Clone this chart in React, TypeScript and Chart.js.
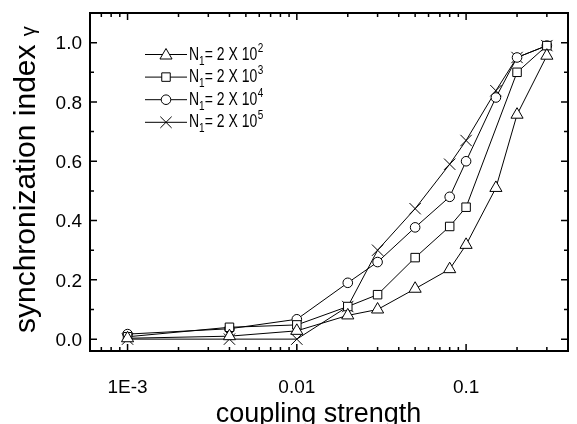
import React, { useEffect, useRef } from 'react';
import { Chart, registerables } from 'chart.js';

Chart.register(...registerables);

// ---- data ----
const COUPLING = [0.001, 0.004, 0.01, 0.02, 0.03, 0.05, 0.08, 0.1, 0.15, 0.2, 0.3];
const GAMMA_N2 = [0.003, 0.01, 0.028, 0.08, 0.1, 0.17, 0.236, 0.318, 0.51, 0.757, 0.956];
const GAMMA_N3 = [0.008, 0.04, 0.048, 0.11, 0.15, 0.275, 0.38, 0.445, null, 0.9, 0.99];
const GAMMA_N4 = [0.017, 0.035, 0.067, 0.19, 0.26, 0.377, 0.48, 0.6, 0.815, 0.95, 0.99];
const GAMMA_N5 = [0.0, 0.0, 0.0, 0.11, 0.3, 0.44, 0.59, 0.67, 0.838, 0.95, 0.99];
const SERIES_EXPONENTS = ['2', '3', '4', '5'];
const SERIES_STYLES = ['triangle', 'rect', 'circle', 'crossRot'];
const SERIES_RADII = [7, 6, 4.8, 8];

const X_TICKS = [0.001, 0.01, 0.1];
const X_TICK_LABELS = ['1E-3', '0.01', '0.1'];
const Y_TICKS = [0, 0.2, 0.4, 0.6, 0.8, 1.0];
const Y_TICK_LABELS = ['0.0', '0.2', '0.4', '0.6', '0.8', '1.0'];
const X_TITLE = 'coupling strength';
const Y_TITLE = 'synchronization index ';
const Y_SYMBOL = 'γ';

const FONT = '"Liberation Sans", Arial, sans-serif';

function txt(ctx: CanvasRenderingContext2D, s: string, x: number, y: number, size: number, sx = 1, sy = 1, align: CanvasTextAlign = 'left') {
  ctx.save();
  ctx.translate(x, y);
  ctx.scale(sx, sy);
  ctx.font = `${size}px ${FONT}`;
  ctx.textAlign = align;
  ctx.textBaseline = 'alphabetic';
  ctx.fillStyle = '#000';
  ctx.fillText(s, 0, 0);
  const w = ctx.measureText(s).width * sx;
  ctx.restore();
  return w;
}

function drawMarker(ctx: CanvasRenderingContext2D, style: string, x: number, y: number, r: number) {
  ctx.save();
  ctx.beginPath();
  ctx.strokeStyle = '#000';
  ctx.fillStyle = '#fff';
  ctx.lineWidth = 1;
  if (style === 'triangle') {
    ctx.moveTo(x, y - r);
    ctx.lineTo(x + 0.866 * r, y + 0.5 * r);
    ctx.lineTo(x - 0.866 * r, y + 0.5 * r);
    ctx.closePath();
    ctx.fill();
    ctx.stroke();
  } else if (style === 'rect') {
    const s = Math.SQRT1_2 * r;
    ctx.rect(x - s, y - s, 2 * s, 2 * s);
    ctx.fill();
    ctx.stroke();
  } else if (style === 'circle') {
    ctx.arc(x, y, r, 0, Math.PI * 2);
    ctx.fill();
    ctx.stroke();
  } else {
    const o = Math.SQRT1_2 * r;
    ctx.moveTo(x - o, y - o);
    ctx.lineTo(x + o, y + o);
    ctx.moveTo(x + o, y - o);
    ctx.lineTo(x - o, y + o);
    ctx.stroke();
  }
  ctx.restore();
}

const decorPlugin = {
  id: 'decor',
  afterDraw(chart: any) {
    const ctx: CanvasRenderingContext2D = chart.ctx;
    const { left, top, right, bottom } = chart.chartArea;
    const xs = chart.scales.x;
    const ys = chart.scales.y;
    ctx.save();
    ctx.strokeStyle = '#000';
    // frame
    ctx.lineWidth = 2;
    ctx.strokeRect(left, top, right - left, bottom - top);
    // ticks
    ctx.lineWidth = 1.5;
    ctx.beginPath();
    for (let e = -4; e <= 0; e++) {
      for (let m = 1; m <= 9; m++) {
        const v = m * Math.pow(10, e);
        if (v < xs.min || v > xs.max) continue;
        const px = xs.getPixelForValue(v);
        const len = m === 1 ? 7 : 4;
        ctx.moveTo(px, bottom);
        ctx.lineTo(px, bottom - len);
        ctx.moveTo(px, top);
        ctx.lineTo(px, top + len);
      }
    }
    for (let k = -1; k <= 11; k++) {
      const v = k / 10;
      if (v < ys.min || v > ys.max) continue;
      const py = ys.getPixelForValue(v);
      const len = k % 2 === 0 ? 7 : 4;
      ctx.moveTo(left, py);
      ctx.lineTo(left + len, py);
      ctx.moveTo(right, py);
      ctx.lineTo(right - len, py);
    }
    ctx.stroke();
    // tick labels
    X_TICKS.forEach((v, i) => {
      txt(ctx, X_TICK_LABELS[i], xs.getPixelForValue(v), bottom + 42, 19, 1, 1, 'center');
    });
    Y_TICKS.forEach((v, i) => {
      txt(ctx, Y_TICK_LABELS[i], left - 8, ys.getPixelForValue(v) + 6.8, 19, 1, 1, 'right');
    });
    // axis titles
    txt(ctx, X_TITLE, 318.5, 421.5, 27, 1, 1.05, 'center');
    ctx.save();
    ctx.translate(35, 333);
    ctx.rotate(-Math.PI / 2);
    ctx.font = `30px ${FONT}`;
    ctx.fillStyle = '#000';
    ctx.textBaseline = 'alphabetic';
    ctx.fillText(Y_TITLE, 0, 0);
    const w = ctx.measureText(Y_TITLE).width;
    ctx.font = `20px ${FONT}`;
    ctx.fillText(Y_SYMBOL, w, 0);
    ctx.restore();
    // legend
    SERIES_EXPONENTS.forEach((exp, i) => {
      const b = 59.5 + i * 22.6;
      const ly = b - 5;
      ctx.beginPath();
      ctx.lineWidth = 1;
      ctx.moveTo(145, ly);
      ctx.lineTo(187, ly);
      ctx.stroke();
      drawMarker(ctx, SERIES_STYLES[i], 166, SERIES_STYLES[i] === 'triangle' ? ly + 1 : ly, SERIES_RADII[i]);
      let x = 189;
      x += txt(ctx, 'N', x, b, 14, 1, 1.3);
      x += txt(ctx, '1', x, b + 5, 10, 1, 1.3);
      x += txt(ctx, '= 2 X 10', x, b, 14, 1, 1.3);
      txt(ctx, exp, x + 0.5, b - 8, 10, 1, 1.3);
    });
    ctx.restore();
  },
};

export default function App() {
  const ref = useRef<HTMLCanvasElement>(null);
  useEffect(() => {
    document.body.style.margin = '0';
    const series = [GAMMA_N2, GAMMA_N3, GAMMA_N4, GAMMA_N5];
    const chart = new Chart(ref.current!, {
      type: 'line',
      data: {
        datasets: series.map((vals, i) => ({
          label: `N1 = 2 X 10^${SERIES_EXPONENTS[i]}`,
          data: COUPLING.map((x, j) => ({ x, y: vals[j] as any })),
          borderColor: '#000',
          borderWidth: 1,
          pointStyle: SERIES_STYLES[i] as any,
          pointRadius: SERIES_RADII[i],
          pointBorderColor: '#000',
          pointBackgroundColor: '#fff',
          pointBorderWidth: 1,
          tension: 0,
          spanGaps: true,
          clip: false as any,
        })),
      },
      options: {
        responsive: false,
        animation: false,
        layout: { padding: { top: 13, right: 1, left: 0, bottom: 0 } },
        plugins: { legend: { display: false }, tooltip: { enabled: false } },
        scales: {
          x: {
            type: 'logarithmic',
            min: 6e-4,
            max: 0.4,
            ticks: { display: false },
            grid: { display: false },
            border: { display: false },
            afterFit: (s: any) => { s.height = 73; },
          },
          y: {
            type: 'linear',
            min: -0.04,
            max: 1.1,
            ticks: { display: false },
            grid: { display: false },
            border: { display: false },
            afterFit: (s: any) => { s.width = 90; },
          },
        },
      },
      plugins: [decorPlugin],
    });
    return () => chart.destroy();
  }, []);
  return <canvas ref={ref} width={577} height={424} style={{ display: 'block' }} />;
}
